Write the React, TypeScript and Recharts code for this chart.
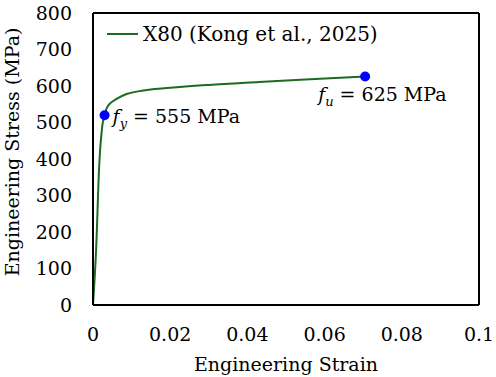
import { LineChart, Line, XAxis, YAxis, ReferenceLine, ReferenceDot, Legend } from 'recharts';

const strain = [0, 0.0008, 0.0016, 0.0024, 0.003, 0.0035, 0.0045, 0.006, 0.0087, 0.012, 0.02, 0.03, 0.043, 0.055, 0.0705];
const stress = [0, 150, 380, 490, 520, 538, 553, 564, 578, 586, 595, 603, 611, 618, 626];

const xTicks = [0, 0.02, 0.04, 0.06, 0.08, 0.1];
const yTicks = [0, 100, 200, 300, 400, 500, 600, 700, 800];

const yieldPoint = { strain: 0.003, stress: 520, label: '555 MPa', sub: 'y' };
const ultimatePoint = { strain: 0.0705, stress: 626, label: '625 MPa', sub: 'u' };

const SERIES = 'X80 (Kong et al., 2025)';
const FONT = '"DejaVu Serif", serif';
const GREEN = '#1d6b22';
const txt = { fontFamily: FONT, fontSize: 19 };

const data = strain.map((s, i) => ({ strain: s, stress: stress[i] }));

const pointLabel = (p: typeof yieldPoint, dx: number, dy: number) => (props: any) => {
  const vb = props.viewBox || {};
  const cx = vb.x + (vb.width || 0) / 2;
  const cy = vb.y + (vb.height || 0) / 2;
  return (
    <text x={cx + dx} y={cy + dy} style={txt} fill="#000">
      <tspan fontStyle="italic">f</tspan>
      <tspan fontStyle="italic" style={{ fontSize: 13 }} dy={5}>{p.sub}</tspan>
      <tspan dy={-5}>{' = ' + p.label}</tspan>
    </text>
  );
};

const LegendBox = () => (
  <div style={{ ...txt, fontSize: 20, display: 'flex', alignItems: 'center', lineHeight: '24px', whiteSpace: 'nowrap' }}>
    <svg width={31} height={4}>
      <line x1={0} y1={2} x2={31} y2={2} stroke={GREEN} strokeWidth={2} />
    </svg>
    <span style={{ marginLeft: 5 }}>{SERIES}</span>
  </div>
);

const App = () => {
  return (
    <div style={{ position: 'absolute', left: 0, top: 0, width: 496, height: 377, background: '#fff', fontFamily: FONT }}>
      <LineChart
        width={496}
        height={377}
        data={data}
        style={{ fontFamily: FONT }}
        margin={{ top: 13, right: 17, left: 33, bottom: 22 }}
      >
        <XAxis
          dataKey="strain"
          type="number"
          domain={[0, 0.1]}
          ticks={xTicks}
          height={50}
          tickLine={false}
          tickSize={0}
          tickMargin={23}
          axisLine={{ stroke: '#000', strokeWidth: 2 }}
          tick={{ fill: '#000', fontSize: 19, fontFamily: FONT, style: txt }}
          label={{
            content: (props: any) => {
              const vb = props.viewBox;
              return (
                <text x={vb.x + vb.width / 2} y={371} textAnchor="middle" style={txt} fill="#000">
                  Engineering Strain
                </text>
              );
            },
          }}
        />
        <YAxis
          type="number"
          domain={[0, 800]}
          ticks={yTicks}
          width={60}
          tickLine={false}
          tickSize={0}
          tickMargin={21}
          axisLine={{ stroke: '#000', strokeWidth: 2 }}
          tick={{ fill: '#000', fontSize: 19, fontFamily: FONT, style: txt }}
          label={{
            content: (props: any) => {
              const vb = props.viewBox;
              const cy = vb.y + vb.height / 2 - 7;
              return (
                <text
                  x={12}
                  y={cy}
                  transform={`rotate(-90, 12, ${cy})`}
                  textAnchor="middle"
                  dominantBaseline="central"
                  style={txt}
                  fill="#000"
                >
                  Engineering Stress (MPa)
                </text>
              );
            },
          }}
        />
        <ReferenceLine x={0.1} stroke="#000" strokeWidth={2} />
        <ReferenceLine y={800} stroke="#000" strokeWidth={2} />
        <Legend
          layout="horizontal"
          verticalAlign="middle"
          align="center"
          content={LegendBox}
          wrapperStyle={{ top: 22, left: 107, width: 'auto', height: 'auto' }}
        />
        <Line
          type="monotone"
          dataKey="stress"
          name={SERIES}
          stroke={GREEN}
          strokeWidth={2}
          dot={false}
          isAnimationActive={false}
        />
        <ReferenceDot
          x={yieldPoint.strain}
          y={yieldPoint.stress}
          r={5}
          fill="#0000ff"
          stroke="none"
          label={{ content: pointLabel(yieldPoint, 8, 8) }}
        />
        <ReferenceDot
          x={ultimatePoint.strain}
          y={ultimatePoint.stress}
          r={5}
          fill="#0000ff"
          stroke="none"
          label={{ content: pointLabel(ultimatePoint, -47, 24) }}
        />
      </LineChart>
    </div>
  );
};

export default App;
